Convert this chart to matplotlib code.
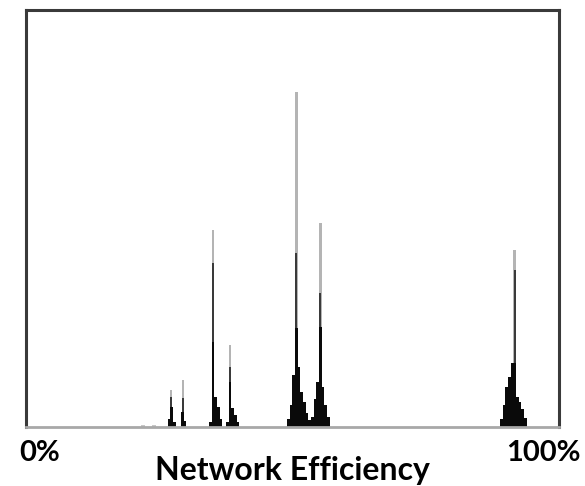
import matplotlib
matplotlib.use("Agg")
import matplotlib.pyplot as plt

# ---- data (x in % network efficiency, y in count units) ----
bin_width = 0.5

peak_starts = [26.55, 29.08, 34.33, 37.52, 48.97, 53.47, 88.93]
peak_black = [
    [8, 20, 5],
    [15, 6],
    [5, 85, 30, 20, 8],
    [5, 45, 19, 12, 5],
    [8, 22, 52, 99, 60, 35, 25, 14, 7],
    [10, 28, 45, 100, 40, 22, 10],
    [8, 22, 40, 50, 64, 64, 30, 25, 18, 9],
]
spike_x = [27.2, 29.45, 35.08, 38.27, 50.72, 55.22, 91.68]
spike_dark = [30, 29, 164, 60, 174, 134, 157]
spike_light = [37, 47, 197, 82, 335, 204, 177]

tiny_x = [21.95, 24.0]
tiny_h = [2.5, 2.5]

x_labels = ["0%", "100%"]
x_title = "Network Efficiency"

# ---- figure ----
fig = plt.figure(figsize=(5.85, 4.86), dpi=100)
ax = fig.add_axes([26 / 585, 1 - 427 / 486, (559 - 26) / 585, (427 - 10) / 486])
ax.set_xlim(0, 100)
ax.set_ylim(0, 417)

ax.bar(tiny_x, tiny_h, width=0.6, color="#c8c8c8", linewidth=0)
ax.bar(spike_x, spike_light, width=0.55, color="#b4b4b4", linewidth=0)
ax.bar(spike_x, spike_dark, width=0.4, color="#3a3a3a", linewidth=0)
for start, heights in zip(peak_starts, peak_black):
    edges = [start + i * bin_width for i in range(len(heights) + 1)]
    ax.stairs(heights, edges, fill=True, color="#0a0a0a", linewidth=0)

ax.set_xticks([])
ax.set_yticks([])
for side in ["left", "top", "right"]:
    ax.spines[side].set_color("#3a3a3a")
    ax.spines[side].set_linewidth(2.2)
ax.spines["bottom"].set_color("#a8a8a8")
ax.spines["bottom"].set_linewidth(2.0)

fnt = "Lato"
fig.text(19 / 585, 1 - 453 / 486, x_labels[0], ha="left", va="center",
         fontsize=21, fontweight="bold", family=fnt)
fig.text(581 / 585, 1 - 453 / 486, x_labels[1], ha="right", va="center",
         fontsize=21, fontweight="bold", family=fnt)
fig.text(292 / 585, 1 - 470 / 486, x_title, ha="center", va="center",
         fontsize=23, fontweight="bold", family=fnt)

fig.savefig("out.png", dpi=100)
